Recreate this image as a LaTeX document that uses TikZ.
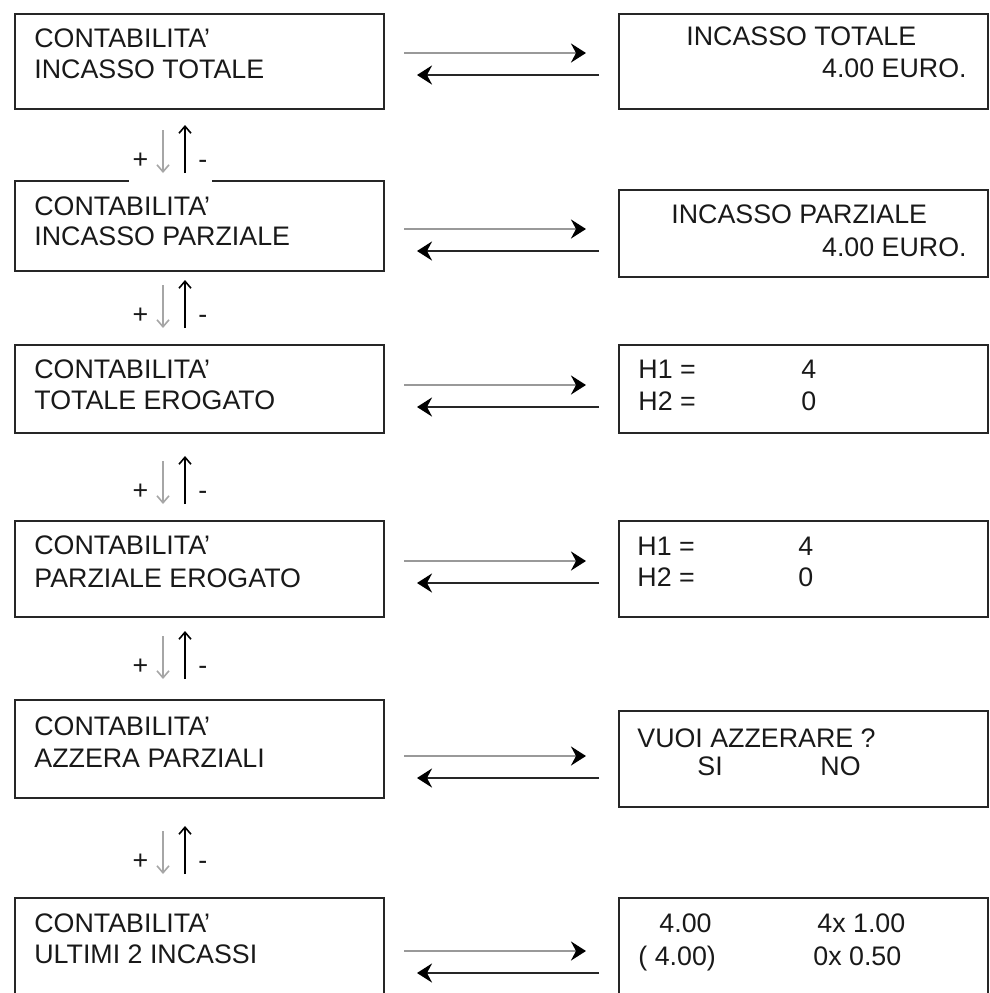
\documentclass[tikz,border=0pt]{standalone}
\usepackage{fontspec}
\setmainfont{Liberation Sans}
\usetikzlibrary{arrows.meta}
\tikzset{menu/.style={draw=black!85, line width=1pt, anchor=north west, minimum width=184.5pt}}
\tikzset{riga/.style={anchor=base west}}
\tikzset{rigadx/.style={anchor=base east}}
\tikzset{avanti/.style={line width=1.2pt, draw=black!40, shorten <=9.5pt, shorten >=16pt, -{Stealth[length=7.5pt, width=9.5pt, inset=2.5pt, color=black]}}}
\tikzset{indietro/.style={line width=1.2pt, draw=black!85, shorten <=9.5pt, shorten >=16pt, -{Stealth[length=7.5pt, width=9.5pt, inset=2.5pt, color=black]}}}
\tikzset{segno/.style={minimum width=41.5pt, minimum height=30pt, text height=8pt, text depth=0pt}}
\tikzset{giu/.style={line width=0.8pt, draw=black!35, -{Straight Barb[length=3.5pt, width=6pt]}}}
\tikzset{su/.style={line width=0.8pt, draw=black, -{Straight Barb[length=3.5pt, width=6pt]}}}

\begin{document}
\begin{tikzpicture}[
                x = 0.5pt, y = -0.5pt,
                every node/.style={inner sep=0pt, text=black!90, font=\fontsize{13.4}{16}\selectfont}
            ]
                \useasboundingbox (0,0) rectangle (990,993);
                \clip (0,0) rectangle (990,993);

                % menu a sinistra
                \node[menu, minimum height=47.5pt] (m1) at (14,13) {};
                \node[menu, minimum height=45pt] (m2) at (14,180) {};
                \node[menu, minimum height=44pt] (m3) at (14,344) {};
                \node[menu, minimum height=48pt] (m4) at (14,520) {};
                \node[menu, minimum height=49pt] (m5) at (14,699) {};
                \node[menu, minimum height=60pt] (m6) at (14,897) {};

                % schermate a destra
                \node[menu, minimum height=47.5pt] (r1) at (618,13) {};
                \node[menu, minimum height=43.5pt] (r2) at (618,189) {};
                \node[menu, minimum height=44pt] (r3) at (618,344) {};
                \node[menu, minimum height=48pt] (r4) at (618,520) {};
                \node[menu, minimum height=48pt] (r5) at (618,710) {};
                \node[menu, minimum height=60pt] (r6) at (618,897) {};

                \node[riga] (m1a) at (34,47) {CONTABILITA'};
                \node[riga] (m1b) at (34,78) {INCASSO TOTALE};
                \node[riga] (m2a) at (34,215) {CONTABILITA'};
                \node[riga] (m2b) at (34,245) {INCASSO PARZIALE};
                \node[riga] (m3a) at (34,378) {CONTABILITA'};
                \node[riga] (m3b) at (34,409) {TOTALE EROGATO};
                \node[riga] (m4a) at (34,554) {CONTABILITA'};
                \node[riga] (m4b) at (34,587) {PARZIALE EROGATO};
                \node[riga] (m5a) at (34,735) {CONTABILITA'};
                \node[riga] (m5b) at (34,767) {AZZERA PARZIALI};
                \node[riga] (m6a) at (34,932) {CONTABILITA'};
                \node[riga] (m6b) at (34,963) {ULTIMI 2 INCASSI};

                \node[riga] (r1a) at (686,45) {INCASSO TOTALE};
                \node[rigadx] (r1b) at (967,77) {4.00 EURO.};
                \node[riga] (r2a) at (671,223) {INCASSO PARZIALE};
                \node[rigadx] (r2b) at (967,256) {4.00 EURO.};
                \node[riga] (r3a) at (638,378) {H1 =};
                \node[riga] (r3b) at (801,378) {4};
                \node[riga] (r3c) at (638,410) {H2 =};
                \node[riga] (r3d) at (801,410) {0};
                \node[riga] (r4a) at (637,555) {H1 =};
                \node[riga] (r4b) at (798,555) {4};
                \node[riga] (r4c) at (637,586) {H2 =};
                \node[riga] (r4d) at (798,586) {0};
                \node[riga] (r5a) at (637,747) {VUOI AZZERARE ?};
                \node[riga] (r5b) at (697,775) {SI};
                \node[riga] (r5c) at (820,775) {NO};
                \node[riga] (r6a) at (659,932) {4.00};
                \node[riga] (r6b) at (817,932) {4x 1.00};
                \node[riga] (r6c) at (638,965) {( 4.00)};
                \node[riga] (r6d) at (813,965) {0x 0.50};

                % frecce avanti / indietro
                \draw[avanti] (m1.east |- 0,53) -- (r1.west |- 0,53);
                \draw[indietro] (r1.west |- 0,75) -- (m1.east |- 0,75);
                \draw[avanti] (m2.east |- 0,229) -- (r2.west |- 0,229);
                \draw[indietro] (r2.west |- 0,251) -- (m2.east |- 0,251);
                \draw[avanti] (m3.east |- 0,385) -- (r3.west |- 0,385);
                \draw[indietro] (r3.west |- 0,407) -- (m3.east |- 0,407);
                \draw[avanti] (m4.east |- 0,561) -- (r4.west |- 0,561);
                \draw[indietro] (r4.west |- 0,583) -- (m4.east |- 0,583);
                \draw[avanti] (m5.east |- 0,756) -- (r5.west |- 0,756);
                \draw[indietro] (r5.west |- 0,778) -- (m5.east |- 0,778);
                \draw[avanti] (m6.east |- 0,951) -- (r6.west |- 0,951);
                \draw[indietro] (r6.west |- 0,973) -- (m6.east |- 0,973);

                % tasti + e -
                \node[segno, fill=white] (g1) at (170,160) {+\hspace{25pt}-};
                \node[segno] (g2) at (170,315) {+\hspace{25pt}-};
                \node[segno] (g3) at (170,491) {+\hspace{25pt}-};
                \node[segno] (g4) at (170,666) {+\hspace{25pt}-};
                \node[segno] (g5) at (170,861) {+\hspace{25pt}-};

                \draw[giu] ([xshift=-3.5pt, yshift=15pt]g1.center) -- ([xshift=-3.5pt, yshift=-6.5pt]g1.center);
                \draw[su] ([xshift=7.5pt, yshift=-6.5pt]g1.center) -- ([xshift=7.5pt, yshift=17.5pt]g1.center);
                \draw[giu] ([xshift=-3.5pt, yshift=15pt]g2.center) -- ([xshift=-3.5pt, yshift=-6.5pt]g2.center);
                \draw[su] ([xshift=7.5pt, yshift=-6.5pt]g2.center) -- ([xshift=7.5pt, yshift=17.5pt]g2.center);
                \draw[giu] ([xshift=-3.5pt, yshift=15pt]g3.center) -- ([xshift=-3.5pt, yshift=-6.5pt]g3.center);
                \draw[su] ([xshift=7.5pt, yshift=-6.5pt]g3.center) -- ([xshift=7.5pt, yshift=17.5pt]g3.center);
                \draw[giu] ([xshift=-3.5pt, yshift=15pt]g4.center) -- ([xshift=-3.5pt, yshift=-6.5pt]g4.center);
                \draw[su] ([xshift=7.5pt, yshift=-6.5pt]g4.center) -- ([xshift=7.5pt, yshift=17.5pt]g4.center);
                \draw[giu] ([xshift=-3.5pt, yshift=15pt]g5.center) -- ([xshift=-3.5pt, yshift=-6.5pt]g5.center);
                \draw[su] ([xshift=7.5pt, yshift=-6.5pt]g5.center) -- ([xshift=7.5pt, yshift=17.5pt]g5.center);
            \end{tikzpicture}
\end{document}
